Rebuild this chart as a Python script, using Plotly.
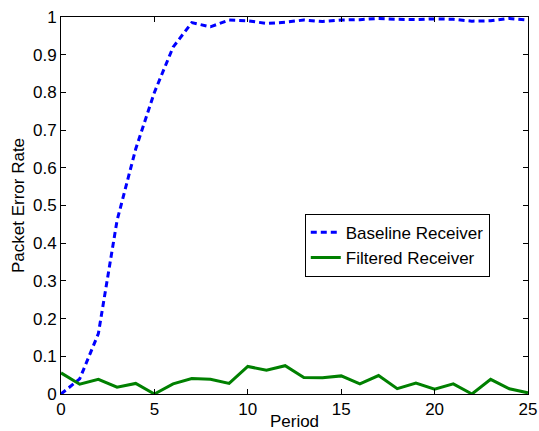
import plotly.graph_objects as go

# Packet error rate per period for two receivers
periods = list(range(26))
baseline_per = [0.0, 0.04, 0.16, 0.46, 0.65, 0.80, 0.92, 0.985, 0.974, 0.992, 0.99,
                0.983, 0.986, 0.992, 0.988, 0.992, 0.993, 0.996, 0.994, 0.993, 0.995,
                0.994, 0.989, 0.99, 0.996, 0.992]
filtered_per = [0.056, 0.026, 0.039, 0.018, 0.028, 0.0, 0.027, 0.041, 0.039, 0.028, 0.073,
                0.063, 0.075, 0.044, 0.043, 0.048, 0.027, 0.049, 0.014, 0.029, 0.013,
                0.027, 0.0, 0.039, 0.014, 0.003]

y_ticks = [i / 10 for i in range(11)]
y_labels = ["0", "0.1", "0.2", "0.3", "0.4", "0.5", "0.6", "0.7", "0.8", "0.9", "1"]
x_ticks = [0, 5, 10, 15, 20, 25]

font_family = "Liberation Sans, Arial, sans-serif"
font_size = 17

fig = go.Figure()
fig.add_trace(go.Scatter(
    x=periods, y=baseline_per, mode="lines", name="Baseline Receiver",
    line=dict(color="#0000FF", width=3, dash="6px,4px"),
))
fig.add_trace(go.Scatter(
    x=periods, y=filtered_per, mode="lines", name="Filtered Receiver",
    line=dict(color="#008000", width=3),
))

axis_common = dict(
    showline=True, linecolor="black", linewidth=1, mirror="ticks",
    ticks="inside", ticklen=5, tickcolor="black", tickwidth=1,
    showgrid=False, zeroline=False, automargin=False,
    tickfont=dict(family=font_family, size=font_size, color="black"),
)

fig.update_layout(
    width=539, height=431,
    margin=dict(l=61, r=11, t=17, b=37),
    paper_bgcolor="white", plot_bgcolor="white",
    font=dict(family=font_family, size=font_size, color="black"),
    xaxis=dict(
        range=[0, 25], tickvals=x_ticks, ticktext=[str(v) for v in x_ticks],
        title=dict(text="Period", font=dict(size=font_size), standoff=0),
        **axis_common,
    ),
    yaxis=dict(
        range=[0, 1], tickvals=y_ticks, ticktext=y_labels,
        title=dict(text="Packet Error Rate", font=dict(size=font_size), standoff=4),
        **axis_common,
    ),
    legend=dict(
        x=0.522, y=0.478, xanchor="left", yanchor="top",
        bgcolor="white", bordercolor="black", borderwidth=1,
        font=dict(family=font_family, size=font_size, color="black"),
        itemwidth=30, tracegroupgap=0,
    ),
    showlegend=True,
)

fig.write_html("out.html")
